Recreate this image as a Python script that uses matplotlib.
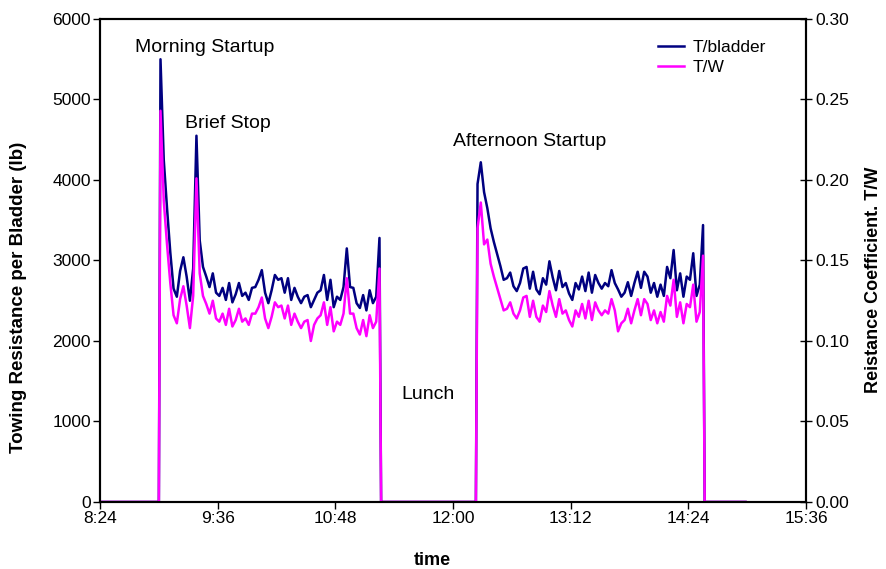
import numpy as np
import matplotlib
matplotlib.use("Agg")
import matplotlib.pyplot as plt
from matplotlib.ticker import FuncFormatter, MultipleLocator

plt.rcParams['font.family'] = ['Liberation Sans', 'DejaVu Sans']

# sample times (h:mm), readings every 2 minutes while towing
zero_before = ["8:24", "9:00"]
morning_start = "9:01"
lunch_zero = ["11:16", "12:14"]
afternoon_start = "12:15"
end_zero = ["14:34", "14:59"]
step_min = 2

# towing resistance per bladder (lb)
t_morning = [5500, 4250, 3650, 3100, 2650, 2550, 2870, 3040, 2800, 2500,
             2900, 4550, 3250, 2920, 2800, 2670, 2840, 2600, 2560, 2660,
             2510, 2720, 2480, 2580, 2720, 2560, 2600, 2510, 2660, 2670,
             2760, 2880, 2600, 2470, 2630, 2820, 2760, 2780, 2600, 2780,
             2510, 2660, 2550, 2470, 2550, 2570, 2420, 2510, 2600, 2630,
             2820, 2510, 2760, 2420, 2550, 2510, 2670, 3150, 2670, 2660,
             2470, 2410, 2570, 2380, 2630, 2470, 2550, 3280]
t_afternoon = [3950, 4220, 3850, 3650, 3400, 3230, 3080, 2930, 2760, 2780,
               2850, 2680, 2620, 2720, 2900, 2920, 2650, 2860, 2640, 2580,
               2780, 2700, 2990, 2790, 2630, 2870, 2670, 2720, 2590, 2510,
               2720, 2640, 2800, 2620, 2850, 2600, 2820, 2720, 2650, 2720,
               2680, 2880, 2720, 2640, 2550, 2600, 2730, 2560, 2720, 2860,
               2660, 2860, 2800, 2600, 2720, 2550, 2700, 2560, 2920, 2780,
               3130, 2630, 2840, 2550, 2800, 2760, 3090, 2560, 2700, 3440]

# resistance coefficient T/W
tw_morning = [0.243, 0.187, 0.160, 0.136, 0.116, 0.111, 0.126, 0.134, 0.122, 0.108,
              0.128, 0.201, 0.142, 0.128, 0.123, 0.117, 0.125, 0.114, 0.112, 0.117,
              0.110, 0.120, 0.109, 0.113, 0.120, 0.112, 0.114, 0.110, 0.117, 0.117,
              0.121, 0.127, 0.114, 0.108, 0.115, 0.124, 0.121, 0.122, 0.114, 0.122,
              0.110, 0.117, 0.112, 0.108, 0.112, 0.113, 0.100, 0.110, 0.114, 0.116,
              0.124, 0.110, 0.121, 0.106, 0.112, 0.110, 0.117, 0.139, 0.117, 0.117,
              0.108, 0.104, 0.113, 0.103, 0.116, 0.108, 0.112, 0.145]
tw_afternoon = [0.170, 0.186, 0.160, 0.163, 0.148, 0.140, 0.133, 0.126, 0.119, 0.120,
                0.124, 0.117, 0.114, 0.119, 0.127, 0.128, 0.115, 0.125, 0.115, 0.112,
                0.122, 0.118, 0.131, 0.122, 0.115, 0.126, 0.117, 0.119, 0.113, 0.109,
                0.119, 0.115, 0.123, 0.114, 0.125, 0.113, 0.124, 0.119, 0.116, 0.119,
                0.117, 0.126, 0.119, 0.106, 0.111, 0.113, 0.120, 0.111, 0.119, 0.126,
                0.116, 0.126, 0.123, 0.113, 0.119, 0.111, 0.118, 0.112, 0.128, 0.122,
                0.138, 0.115, 0.124, 0.111, 0.123, 0.121, 0.135, 0.112, 0.118, 0.153]


def to_min(s):
    h, m = s.split(":")
    return int(h) * 60 + int(m)


def fmt_time(x, pos):
    x = int(round(x))
    return "%d:%02d" % (x // 60, x % 60)


t_m = to_min(morning_start) + step_min * np.arange(len(t_morning))
t_a = to_min(afternoon_start) + step_min * np.arange(len(t_afternoon))
times = np.concatenate([[to_min(s) for s in zero_before], t_m,
                        [to_min(s) for s in lunch_zero], t_a,
                        [to_min(s) for s in end_zero]])
T = np.concatenate([[0, 0], t_morning, [0, 0], t_afternoon, [0, 0]])
TW = np.concatenate([[0, 0], tw_morning, [0, 0], tw_afternoon, [0, 0]])

fig = plt.figure(figsize=(8.86, 5.69), dpi=100)
ax = fig.add_axes([0.1129, 0.1178, 0.7968, 0.8488])
ax2 = ax.twinx()

l1, = ax.plot(times, T, color="#000080", lw=1.8, label="T/bladder")
l2, = ax2.plot(times, TW, color="#FF00FF", lw=1.8, label="T/W")

ax.set_xlim(to_min("8:24"), to_min("15:36"))
ax.set_ylim(0, 6000)
ax2.set_ylim(0, 0.30)
ax.xaxis.set_major_locator(MultipleLocator(72))
ax.xaxis.set_major_formatter(FuncFormatter(fmt_time))
ax.yaxis.set_major_locator(MultipleLocator(1000))
ax2.yaxis.set_major_locator(MultipleLocator(0.05))
ax2.yaxis.set_major_formatter(FuncFormatter(lambda v, p: "%.2f" % v))

for a in (ax, ax2):
    for sp in a.spines.values():
        sp.set_linewidth(1.5)
        sp.set_color("black")
ax.tick_params(axis="both", direction="out", labelsize=12.5, length=5, width=1, pad=1.5)
ax2.tick_params(axis="y", direction="inout", labelsize=12.5, length=8, width=1, pad=3)

ax.set_xlabel("time", fontsize=13, fontweight="bold")
ax.set_ylabel("Towing Resistance per Bladder (lb)", fontsize=13.5, fontweight="bold")
ax2.set_ylabel("Reistance Coefficient. T/W", fontsize=13, fontweight="bold")
ax.xaxis.set_label_coords(0.47, -0.104)
ax.yaxis.set_label_coords(-0.104, 0.424)
ax2.yaxis.set_label_coords(1.084, 0.46)

ax.text(to_min("9:28"), 5640, "Morning Startup", fontsize=14, ha="center", va="center")
ax.text(to_min("9:42"), 4700, "Brief Stop", fontsize=14, ha="center", va="center")
ax.text(to_min("12:47"), 4480, "Afternoon Startup", fontsize=14, ha="center", va="center")
ax.text(to_min("11:45"), 1330, "Lunch", fontsize=14, ha="center", va="center")

ax2.legend([l1, l2], ["T/bladder", "T/W"], loc="upper right", bbox_to_anchor=(0.966, 0.99),
           frameon=False, fontsize=12.5, handlelength=1.5, handletextpad=0.5, labelspacing=0.3)

fig.savefig("out.png", dpi=100)
